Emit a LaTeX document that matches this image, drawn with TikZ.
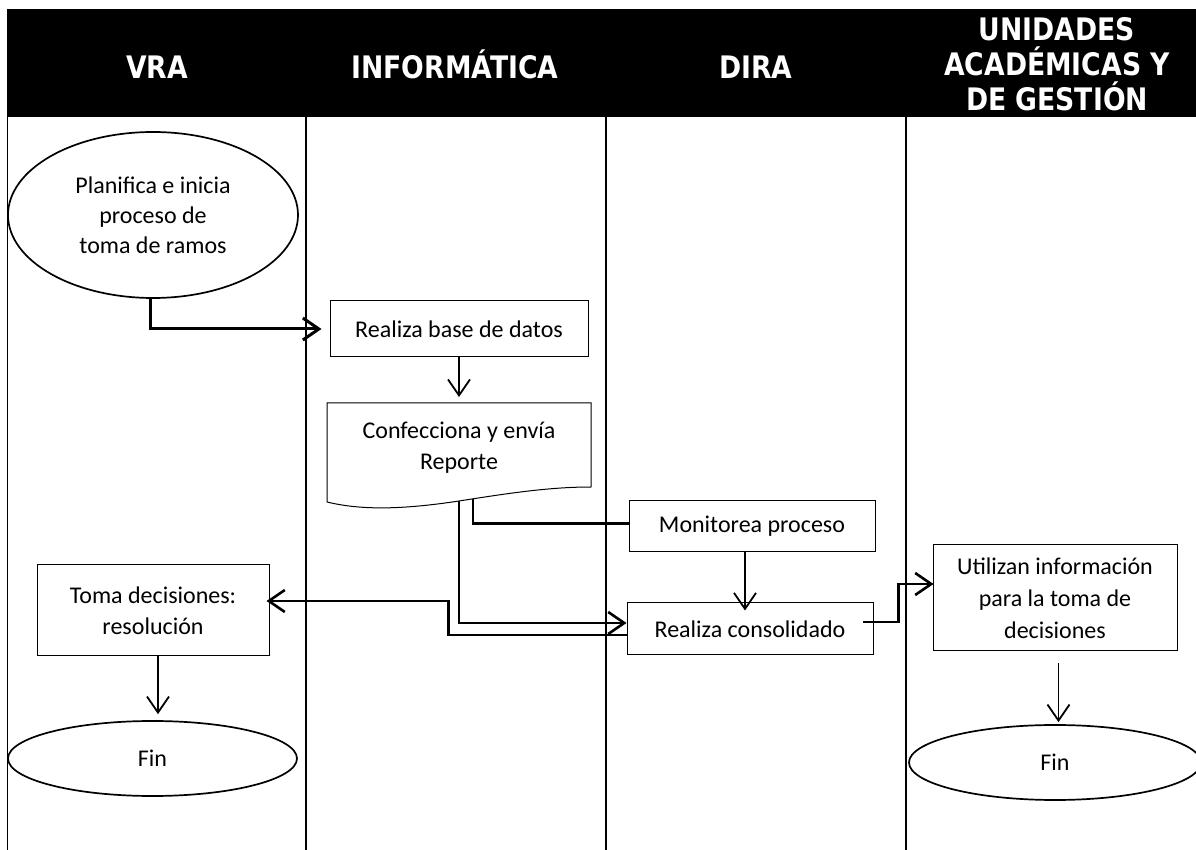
\documentclass[tikz,border=0pt]{standalone}
\usepackage{fontspec}
\setmainfont{Carlito}
\newfontfamily\headfont[FakeStretch=0.86]{DejaVu Sans}
\usetikzlibrary{shapes.geometric,arrows.meta}

\tikzset{every picture/.style={line width=0.9pt}}
\tikzset{
  procbox/.style={draw,rectangle,line width=0.5pt,inner sep=0pt,align=center,font=\fontsize{12}{15.5}\selectfont},
  termnode/.style={draw,ellipse,line width=0.85pt,inner sep=0pt,align=center,font=\fontsize{12}{15}\selectfont},
  headtext/.style={text=white,align=center,font=\headfont\bfseries\fontsize{15.5}{17.5}\selectfont},
  flow/.style={line width=1.3pt},
  barb/.style={-{Straight Barb[length=8pt,width=11pt]}}
}

\begin{document}
\begin{tikzpicture}[x=0.5pt,y=0.5pt,yscale=-1]
  \clip (0,0) rectangle (1196,850);

  %Shape: Header band
  \fill[black] (7,9) rectangle (1196,117);
  %Straight Lines: lanes
  \draw (7.5,117) -- (7.5,850);
  \draw (306,117) -- (306,850);
  \draw (606,117) -- (606,850);
  \draw (906,117) -- (906,850);

  % Text Node
  \node[headtext,anchor=base] (hvra) at (157,79) {VRA};
  % Text Node
  \node[headtext,anchor=base] (hinf) at (455,79) {INFORMÁTICA};
  % Text Node
  \node[headtext,anchor=base] (hdira) at (756,79) {DIRA};
  % Text Node
  \node[headtext] (huni) at (1057,64) {UNIDADES\\ACADÉMICAS Y\\DE GESTIÓN};

  %Shape: Ellipse
  \node[termnode,minimum width=145pt,minimum height=83pt] (start) at (153,215) {Planifica e inicia\\proceso de\\toma de ramos};
  %Shape: Rectangle
  \node[procbox,minimum width=129pt,minimum height=28pt] (base) at (459,329) {Realiza base de datos};

  %Shape: Document
  \draw[line width=0.5pt] (327,403) -- (591,403) -- (591,487) .. controls (550,487) and (510,493) .. (459,501) .. controls (400,510) and (360,510) .. (327,502) -- cycle;
  \node[align=center,font=\fontsize{12}{15.5}\selectfont] (doc) at (459,448) {Confecciona y envía\\Reporte};
  \coordinate (docA) at (459,501);
  \coordinate (docB) at (473,499);

  %Shape: Rectangle
  \node[procbox,minimum width=123pt,minimum height=25.5pt] (monitor) at (752,526.5) {Monitorea proceso};
  %Shape: Rectangle
  \node[procbox,minimum width=123pt,minimum height=26pt] (consol) at (750,629) {Realiza consolidado};
  %Shape: Rectangle
  \node[procbox,minimum width=116pt,minimum height=45.5pt] (toma) at (153,610.5) {Toma decisiones:\\resolución};
  %Shape: Rectangle
  \node[procbox,minimum width=122pt,minimum height=53pt,font=\fontsize{12}{16}\selectfont] (util) at (1055,598) {Utilizan información\\para la toma de\\decisiones};

  %Shape: Ellipse
  \node[termnode,minimum width=144.5pt,minimum height=37.5pt] (finL) at (152.5,758.5) {Fin};
  %Shape: Ellipse
  \node[termnode,minimum width=146pt,minimum height=37.5pt] (finR) at (1055,762.5) {Fin};

  %Straight Lines
  \draw[flow,line width=1.5pt,barb,shorten >=4pt] ([xshift=-1.5pt]start.south) |- (base.west);
  %Straight Lines
  \draw[barb,shorten >=3pt] (base.south) -- (base.south |- 0,403);
  %Straight Lines
  \draw[flow] (docB) |- ([yshift=-1.5pt]monitor.west);
  %Straight Lines
  \draw[flow,barb] (docA) |- ([yshift=-3pt]consol.west);
  %Straight Lines
  \draw[flow,barb,shorten >=-1.5pt] ([yshift=3pt]consol.west) -- ++(-178,0) |- ([yshift=-4.75pt]toma.east);
  %Straight Lines
  \draw[barb,shorten >=-4pt] ([xshift=-3.5pt]monitor.south) -- ([xshift=-3.5pt]monitor.south |- consol.north);
  %Straight Lines
  \draw[flow,barb,shorten >=-0.5pt] ([xshift=-5.5pt,yshift=-3.5pt]consol.east) -- ++(36,0) |- ([yshift=-7pt]util.west);
  %Straight Lines
  \draw[barb,shorten >=3pt] ([xshift=2.5pt]toma.south) -- ([xshift=2.5pt]toma.south |- finL.north);
  %Straight Lines
  \draw[barb,shorten <=6pt,shorten >=1pt] ([xshift=1.75pt]util.south) -- ([xshift=1.75pt]util.south |- finR.north);

\end{tikzpicture}
\end{document}
